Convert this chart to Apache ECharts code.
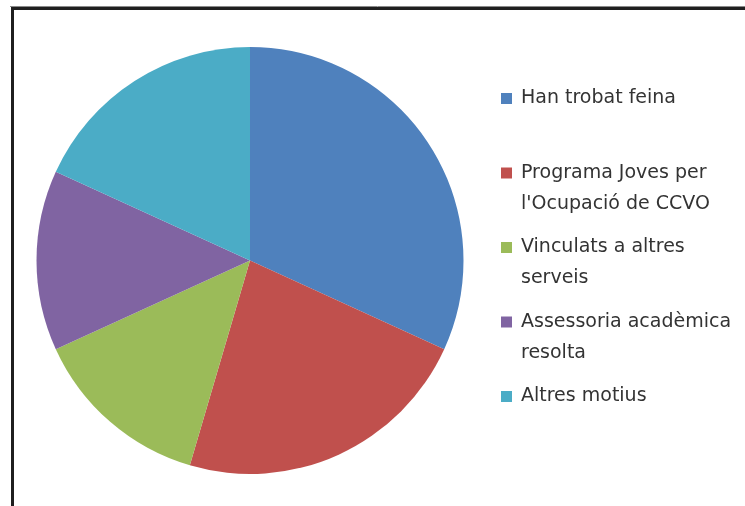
<!DOCTYPE html>
<html>
<head>
<meta charset="utf-8">
<script src="https://cdn.jsdelivr.net/npm/echarts@6/dist/echarts.min.js"></script>
<style>
html,body{margin:0;padding:0;background:#fff;}
#chart{width:745px;height:506px;}
</style>
</head>
<body>
<div id="chart"></div>
<script>
var categories = ['Han trobat feina', 'Programa Joves per l\'Ocupació de CCVO', 'Vinculats a altres serveis', 'Assessoria acadèmica resolta', 'Altres motius'];
var legendLines = [
  ['Han trobat feina'],
  ['Programa Joves per', 'l\'Ocupació de CCVO'],
  ['Vinculats a altres', 'serveis'],
  ['Assessoria acadèmica', 'resolta'],
  ['Altres motius']
];
var values = [7, 5, 3, 3, 4];
var colors = ['#4F81BD', '#C0504D', '#9BBB59', '#8064A2', '#4BACC6'];

var chart = echarts.init(document.getElementById('chart'));
var data = categories.map(function (c, i) { return { name: c, value: values[i] }; });
var lineMap = {};
categories.forEach(function (c, i) { lineMap[c] = legendLines[i]; });

chart.setOption({
  animation: false,
  color: colors,
  graphic: [
    { type: 'rect', shape: { x: 12.5, y: 8.5, width: 800, height: 600 },
      style: { fill: 'none', stroke: '#1f1f1f', lineWidth: 3 }, z: 10 },
    { type: 'line', shape: { x1: 10, y1: 6.5, x2: 745, y2: 6.5 },
      style: { stroke: '#8a8a8a', lineWidth: 1 }, z: 10 }
  ],
  legend: {
    orient: 'vertical',
    left: 501,
    top: 52,
    padding: 0,
    itemGap: -18.5,
    itemWidth: 11,
    itemHeight: 11,
    icon: 'rect',
    selectedMode: false,
    data: categories,
    formatter: function (name) {
      var l = lineMap[name];
      return ' \n' + l[0] + '\n' + (l[1] || ' ');
    },
    textStyle: {
      fontFamily: 'DejaVu Sans',
      fontSize: 19,
      lineHeight: 31,
      color: '#333333',
      padding: [0, 0, 0, 4]
    }
  },
  series: [{
    type: 'pie',
    center: [250, 260.5],
    radius: 213.5,
    startAngle: 90,
    clockwise: true,
    label: { show: false },
    labelLine: { show: false },
    emphasis: { disabled: true },
    itemStyle: { borderWidth: 0 },
    data: data
  }]
});
</script>
</body>
</html>
